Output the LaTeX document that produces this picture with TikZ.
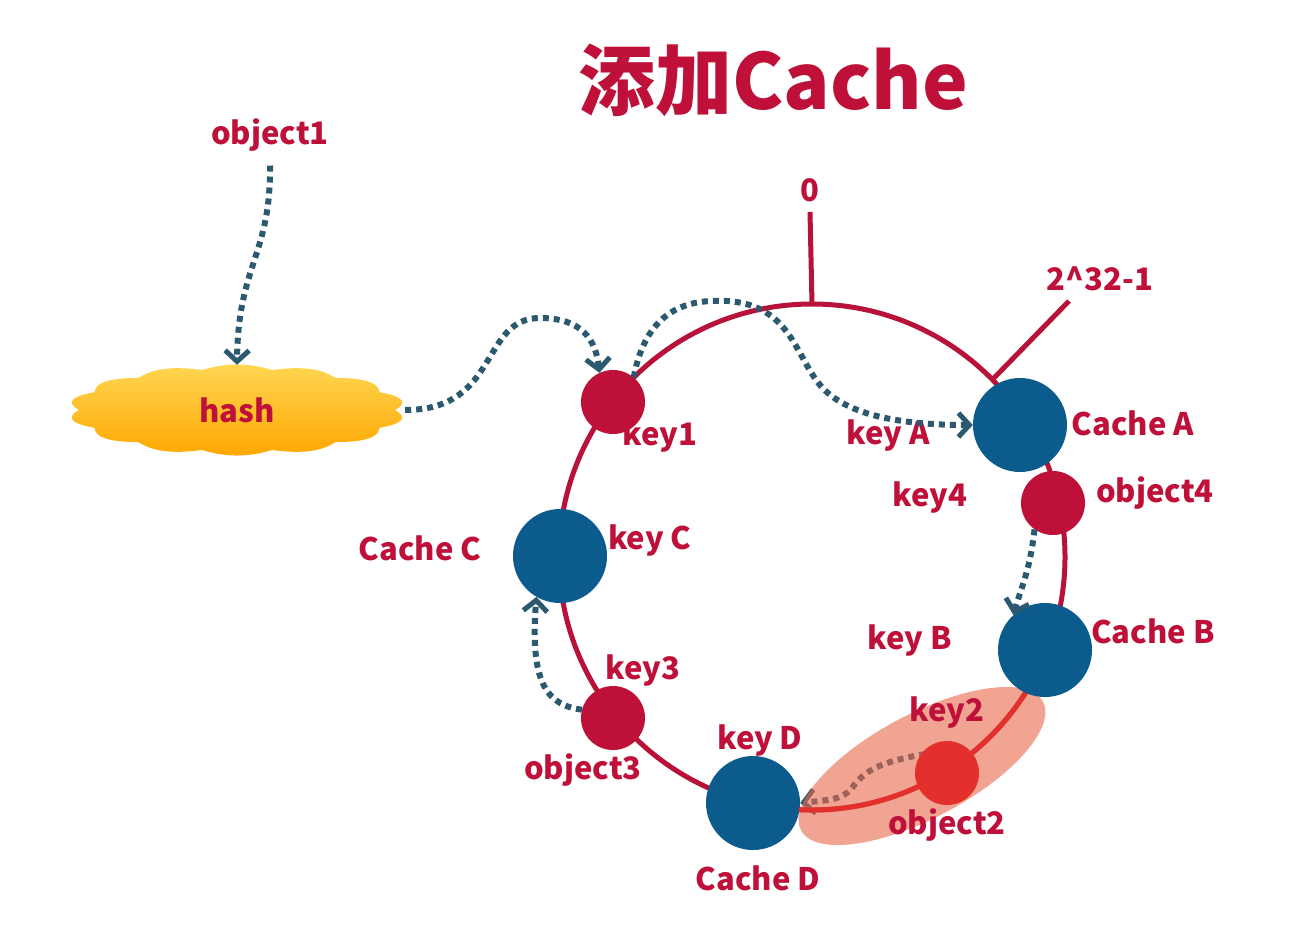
\documentclass[tikz,border=0pt]{standalone}
\usepackage{fontspec}
\setmainfont{Noto Sans CJK SC}
\usetikzlibrary{arrows.meta}
\definecolor{crim}{HTML}{BE1038}
\definecolor{ringc}{HTML}{B8123A}
\definecolor{bluefill}{HTML}{0B5C8C}
\definecolor{dotc}{HTML}{2B5A70}
\definecolor{hotred}{HTML}{E3302C}
\definecolor{salmon}{HTML}{E8684A}
\definecolor{cloudtop}{HTML}{FFD652}
\definecolor{cloudbot}{HTML}{FFA800}
\begin{document}
\begin{tikzpicture}[x=1pt,y=-1pt,
  lbl/.style={text=crim,font=\fontsize{31}{36}\selectfont\bfseries,inner sep=0pt},
  titlestyle/.style={text=crim,font=\fontsize{77}{88}\selectfont\bfseries,inner sep=0pt},
  redc/.style={circle,fill=crim,minimum size=64pt,inner sep=0pt},
  hotc/.style={circle,fill=hotred,minimum size=64pt,inner sep=0pt},
  bluenode/.style={circle,fill=bluefill,minimum size=94pt,inner sep=0pt},
  ring/.style={draw=ringc,line width=5pt},
  hotring/.style={draw=hotred,line width=5pt},
  dots/.style={draw=dotc,line width=6pt,dash pattern=on 6pt off 5pt,
    -{Straight Barb[length=11pt,width=24pt,line width=5pt]}},
]
\useasboundingbox[fill=white] (0,0) rectangle (1289,924);

% title
\node[titlestyle] (title) at (773,80) {添加Cache};

% ring
\coordinate (ctr) at (812,557);
\draw[ring] (ctr) circle[radius=253];
\coordinate (rtop) at (812,304);
\node[lbl] (zero) at (810,190) {0};
\draw[ring] (rtop) -- ([yshift=-10pt]zero.south);
\coordinate (rmax) at (992,380);
\node[lbl] (max) at (1100,279) {2\textasciicircum 32-1};
\coordinate (tmax) at (1069,301);
\draw[ring] (rmax) -- (tmax);

% Cache D and the object2 arrow (under the highlight)
\node[bluenode] (cD) at (753,803) {};
\coordinate (o2s) at (925,754);
\draw[dots] (o2s) .. controls (880,762) and (865,770) .. (852,788)
  .. controls (842,800) and (828,800) .. (cD.east);

% highlight
\begin{scope}[shift={(922,766)},rotate=28]
  \fill[salmon,opacity=0.6] (0,0) ellipse[x radius=137,y radius=52];
\end{scope}
\draw[hotring] ([shift={(22:253)}]ctr) arc[start angle=22,end angle=93,radius=253];

\node[redc] (k1) at (613,402) {};
\node[bluenode] (cA) at (1020,425) {};
\node[redc] (o4) at (1053,503) {};
\node[bluenode] (cB) at (1045,650) {};
\node[hotc] (o2) at (947,773) {};
\node[redc] (o3) at (613,718) {};
\node[bluenode] (cC) at (560,556) {};

% cloud
\shade[top color=cloudtop,bottom color=cloudbot]
  plot[domain=0:360,samples=361,smooth]
  ({237+158*(1+0.065*abs(sin(7*\x)))*cos(\x)},{410+41*(1+0.11*abs(sin(7*\x)))*sin(\x)}) -- cycle;
\node[lbl,minimum width=336pt,minimum height=90pt] (hash) at (237,410) {hash};

% labels
\node[lbl] (obj1) at (270,135) {object1};
\node[lbl] (k1l) at (660,437) {key1};
\node[lbl] (kAl) at (888,436) {key A};
\node[lbl] (cAl) at (1133,423) {Cache A};
\node[lbl] (k4l) at (930,498) {key4};
\node[lbl] (o4l) at (1155,493) {object4};
\node[lbl] (kBl) at (910,640) {key B};
\node[lbl] (cBl) at (1153,631) {Cache B};
\node[lbl] (k2l) at (947,712) {key2};
\node[lbl] (o2l) at (947,825) {object2};
\node[lbl] (kDl) at (760,740) {key D};
\node[lbl] (cDl) at (758,878) {Cache D};
\node[lbl] (k3l) at (643,670) {key3};
\node[lbl] (o3l) at (583,770) {object3};
\node[lbl] (cCl) at (420,548) {Cache C};
\node[lbl] (kCl) at (650,540) {key C};

% dotted arrows
\draw[dots] ([yshift=-14pt]obj1.south) .. controls (271,255) and (238,265) .. (hash.north);
\draw[dots] (hash.east) .. controls (500,410) and (480,318) .. (540,318)
  .. controls (582,318) and (596,340) .. (k1.115);
\draw[dots] (k1.50) .. controls (648,300) and (700,300) .. (727,301)
  .. controls (790,305) and (795,355) .. (820,385)
  .. controls (845,415) and (900,425) .. (cA.west);
\draw[dots] (o4.235) .. controls (1030,570) and (1022,585) .. (cB.132);
\draw[dots] (o3.165) .. controls (545,705) and (530,680) .. (cC.240);
\end{tikzpicture}
\end{document}
